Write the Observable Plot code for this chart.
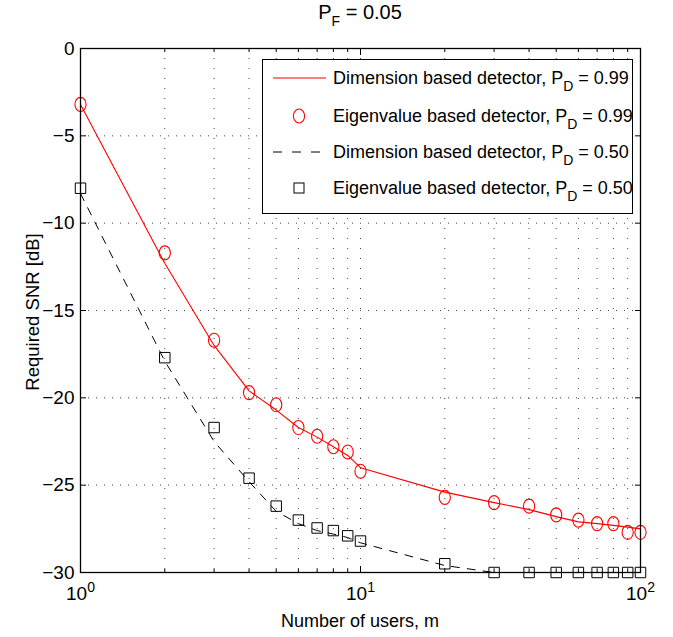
<!DOCTYPE html>
<html><head><meta charset="utf-8">
<script src="https://cdn.jsdelivr.net/npm/d3@7"></script>
<script src="https://cdn.jsdelivr.net/npm/@observablehq/plot@0.6"></script>
<style>
body{margin:0;background:#fff;font-family:"Liberation Sans",Arial,sans-serif;color:#000;}
#wrap{position:relative;width:673px;height:637px;overflow:hidden;}
#title{position:absolute;left:0;top:1px;width:673px;padding-left:47px;box-sizing:border-box;text-align:center;font-size:20px;line-height:22px;}
#chart{position:absolute;left:0;top:32px;}
#xlabel{position:absolute;left:0;top:610px;width:673px;padding-left:47px;box-sizing:border-box;text-align:center;font-size:18px;line-height:22px;}
#ylabel{position:absolute;left:33px;top:312px;transform:translate(-50%,-50%) rotate(-90deg);white-space:nowrap;font-size:18.5px;line-height:22px;}
#legend{position:absolute;left:262px;top:59px;width:371px;height:155px;border:1.5px solid #000;background:#fff;box-sizing:border-box;}
.row{position:absolute;left:0;height:36px;width:368px;display:flex;align-items:center;font-size:18px;white-space:nowrap;}
.row svg{margin-left:8px;margin-right:6px;flex:none;}
sub{font-size:14px;vertical-align:-7px;line-height:0;}
</style>
</head><body>
<div id="wrap">
  <div id="title">P<sub>F</sub> = 0.05</div>
  <div id="chart"></div>
  <div id="xlabel">Number of users, m</div>
  <div id="ylabel">Required SNR [dB]</div>
  <div id="legend"></div>
</div>
<script>
// ---- data ----
const users = [1,2,3,4,5,6,7,8,9,10,20,30,40,50,60,70,80,90,100];
const dimSNR099 = [-3.2,-12.3,-17.0,-19.6,-20.7,-21.7,-22.25,-22.8,-23.3,-24.0,-25.4,-26.0,-26.4,-26.8,-27.1,-27.2,-27.3,-27.4,-27.5];
const eigSNR099 = [-3.2,-11.7,-16.7,-19.7,-20.4,-21.7,-22.2,-22.8,-23.1,-24.2,-25.7,-26.0,-26.2,-26.7,-27.0,-27.2,-27.2,-27.7,-27.7];
const dimSNR050 = [-8.3,-17.9,-22.5,-24.8,-26.5,-27.2,-27.6,-27.8,-28.0,-28.3,-29.6,-30,-30,-30,-30,-30,-30,-30,-30];
const eigSNR050 = [-8.0,-17.7,-21.7,-24.6,-26.2,-27.0,-27.45,-27.6,-27.9,-28.2,-29.5,-30,-30,-30,-30,-30,-30,-30,-30];
const yTicks = [0,-5,-10,-15,-20,-25,-30];
const xTicks = [1,10,100];
const xMinor = [2,3,4,5,6,7,8,9,20,30,40,50,60,70,80,90];
const legendLabels = [
  ["Dimension based detector, P","D"," = 0.99"],
  ["Eigenvalue based detector, P","D"," = 0.99"],
  ["Dimension based detector, P","D"," = 0.50"],
  ["Eigenvalue based detector, P","D"," = 0.50"]
];

const font = '"Liberation Sans",Arial,sans-serif';
const gridV = {stroke:"#444", strokeOpacity:1, strokeDasharray:"1,9", strokeWidth:1};
const gridH = {stroke:"#444", strokeOpacity:1, strokeDasharray:"1,7", strokeWidth:1};

// ellipse marker (MATLAB-style circle, slightly taller than wide)
const ellipse = {
  draw(ctx, size) {
    const s = Math.sqrt(size / Math.PI) / 6.3;
    const rx = 5.6 * s, ry = 7 * s, k = 0.5523;
    ctx.moveTo(rx, 0);
    ctx.bezierCurveTo(rx, k*ry, k*rx, ry, 0, ry);
    ctx.bezierCurveTo(-k*rx, ry, -rx, k*ry, -rx, 0);
    ctx.bezierCurveTo(-rx, -k*ry, -k*rx, -ry, 0, -ry);
    ctx.bezierCurveTo(k*rx, -ry, rx, -k*ry, rx, 0);
    ctx.closePath();
  }
};

const chart = Plot.plot({
  width:673, height:605,
  marginTop:16, marginBottom:65, marginLeft:80, marginRight:33,
  style:{fontFamily:font, fontSize:"18px", color:"#000", background:"#fff"},
  x:{type:"log", domain:[1,100]},
  y:{domain:[-30,0]},
  marks:[
    Plot.gridX([...xMinor,10], gridV),
    Plot.gridY(yTicks.filter(d => d > -30 && d < 0), gridH),
    Plot.axisX(xTicks, {anchor:"bottom", tickSize:0, tickPadding:14, label:null,
      tickFormat: d => "10^" + Math.round(Math.log10(d)), fontSize:19}),
    Plot.axisX(xTicks, {anchor:"bottom", tickSize:-6, tickFormat:() => "", label:null}),
    Plot.axisX(xMinor, {anchor:"bottom", tickSize:-3, tickFormat:() => "", label:null}),
    Plot.axisX(xTicks, {anchor:"top", tickSize:-6, tickFormat:() => "", label:null}),
    Plot.axisX(xMinor, {anchor:"top", tickSize:-3, tickFormat:() => "", label:null}),
    Plot.axisY(yTicks, {anchor:"left", tickSize:0, tickPadding:6, label:null, fontSize:19}),
    Plot.axisY(yTicks, {anchor:"left", tickSize:-6, tickFormat:() => "", label:null}),
    Plot.axisY(yTicks, {anchor:"right", tickSize:-6, tickFormat:() => "", label:null}),
    Plot.lineY(dimSNR099, {x: users, stroke:"#ff0000", strokeWidth:1.1}),
    Plot.dot(eigSNR099, {x: users, y: d => d, symbol: ellipse, r:6.3, stroke:"#ff0000", strokeWidth:1.1, fill:"none"}),
    Plot.lineY(dimSNR050, {x: users, stroke:"#000", strokeWidth:1, strokeDasharray:"8,8"}),
    Plot.dot(eigSNR050, {x: users, y: d => d, symbol:"square", r:5.9, stroke:"#000", strokeWidth:1, fill:"none"}),
    Plot.frame({stroke:"#000", strokeWidth:1.3})
  ]
});
document.getElementById("chart").appendChild(chart);

// superscript exponents on x tick labels
d3.select(chart).selectAll('g[aria-label="x-axis tick label"] text').each(function(){
  const t = d3.select(this);
  const s = t.text();
  if (!s.includes("^")) return;
  const [base, exp] = s.split("^");
  t.text(null);
  t.append("tspan").text(base);
  t.append("tspan").attr("dy","-0.6em").attr("font-size","14px").text(exp);
});

// legend
const legend = document.getElementById("legend");
const rowCenters = [18, 56, 92, 128];
const samples = [
  '<line x1="2" y1="10" x2="55" y2="10" stroke="#ff0000" stroke-width="1.1"/>',
  '<ellipse cx="28" cy="10" rx="5.6" ry="7" fill="none" stroke="#ff0000" stroke-width="1.1"/>',
  '<line x1="2" y1="10" x2="55" y2="10" stroke="#000" stroke-width="1" stroke-dasharray="9,10"/>',
  '<rect x="23" y="5" width="10" height="10" fill="none" stroke="#000" stroke-width="1"/>'
];
legendLabels.forEach((lab, i) => {
  const row = document.createElement("div");
  row.className = "row";
  row.style.top = (rowCenters[i] - 18) + "px";
  row.innerHTML = `<svg width="56" height="20">${samples[i]}</svg><span>${lab[0]}<sub>${lab[1]}</sub>${lab[2]}</span>`;
  legend.appendChild(row);
});
</script>
</body></html>
